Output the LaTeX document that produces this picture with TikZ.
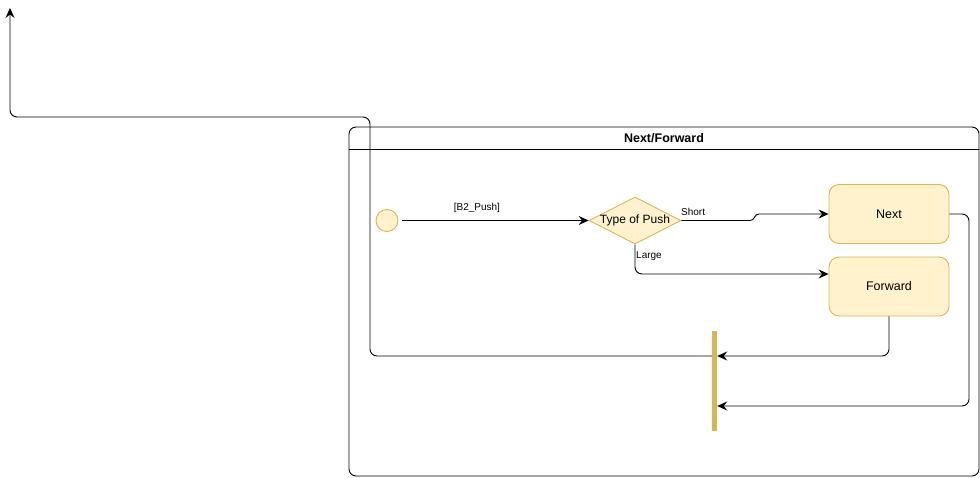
\documentclass[tikz,border=0pt]{standalone}
\usepackage{fontspec}
\setmainfont{Liberation Sans}
\usetikzlibrary{arrows.meta,shapes.geometric}
\definecolor{fillY}{HTML}{FFF2CC}
\definecolor{lineY}{HTML}{D6B656}
\tikzset{
  conn/.style={draw=black, line width=0.9pt, rounded corners=7pt, -{Stealth[length=10pt,width=9pt,inset=3.5pt]}},
  container/.style={draw=black, line width=0.9pt, rounded corners=7pt, rectangle, minimum width=630pt, minimum height=349pt, inner sep=0pt},
  statebox/.style={draw=lineY, fill=fillY, line width=0.9pt, rounded corners=10pt, rectangle, minimum width=120pt, minimum height=59pt, font=\fontsize{12.5}{14}\selectfont},
  decision/.style={draw=lineY, fill=fillY, line width=0.9pt, diamond, aspect=1.95, minimum width=90pt, minimum height=46pt, inner sep=0pt, font=\fontsize{12}{14}\selectfont},
  initst/.style={draw=lineY, fill=fillY, line width=0.9pt, circle, minimum size=22pt, inner sep=0pt},
  forkbar/.style={fill=lineY, draw=none, rectangle, minimum width=5pt, minimum height=100pt, inner sep=0pt},
  lbl/.style={font=\fontsize{10}{12}\selectfont, inner sep=1pt},
}
\begin{document}
\begin{tikzpicture}[x=1pt,y=-1pt]
\useasboundingbox (0,0) rectangle (980,477);
% container
\node[container] (box) at (664,301.5) {};
\draw[line width=0.9pt] (349,149) -- (979,149);
\node[font=\bfseries\fontsize{12.5}{14}\selectfont] (title) at (664,138) {Next/Forward};
% nodes
\node[initst] (init) at (387,220.5) {};
\node[decision] (dec) at (635,220.5) {Type of Push};
\node[statebox] (next) at (889,214) {Next};
\node[statebox] (fwd) at (889,286.5) {Forward};
\node[forkbar] (bar) at (714.5,381) {};
\coordinate (top) at (10,8);
% connectors
\draw[conn] ([xshift=4pt]init.east) -- node[lbl, above=6pt, pos=0.4] (lb1) {[B2\_Push]} (dec.west);
\draw[conn, rounded corners=3pt] (dec.east) -- (753,220.5) -- (756,214) -- (next.west);
\node[lbl, anchor=south west] (lshort) at (680,217) {Short};
\draw[conn] (dec.south) |- ([yshift=12.5pt]fwd.west);
\node[lbl, anchor=north west] (llarge) at (635,250) {Large};
\draw[conn] (fwd.south) |- ([yshift=25pt]bar.east);
\draw[conn] (next.east) -| (969,300) |- ([yshift=-25pt]bar.east);
\draw[conn] ([yshift=25pt]bar.west) -| (370,117) -| (top);
\end{tikzpicture}
\end{document}
